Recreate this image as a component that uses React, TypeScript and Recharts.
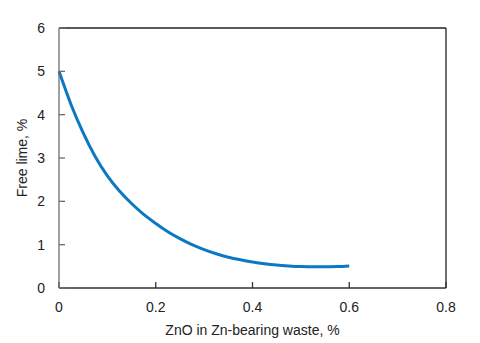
import { LineChart, Line, XAxis, YAxis, ReferenceLine } from "recharts";

// ZnO content in waste (%) and free lime (%)
const zno = [0, 0.025, 0.05, 0.075, 0.1, 0.125, 0.15, 0.175, 0.2, 0.225, 0.25, 0.275, 0.3, 0.325, 0.35, 0.375, 0.4, 0.425, 0.45, 0.475, 0.5, 0.525, 0.55, 0.575, 0.6];
const freeLime = [5.0, 4.23, 3.58, 3.03, 2.59, 2.24, 1.95, 1.7, 1.49, 1.3, 1.14, 1.0, 0.885, 0.79, 0.71, 0.65, 0.6, 0.56, 0.53, 0.51, 0.495, 0.488, 0.488, 0.495, 0.51];

const xTicks = [0, 0.2, 0.4, 0.6, 0.8];
const yTicks = [0, 1, 2, 3, 4, 5, 6];

const data = zno.map((x, i) => ({ x, y: freeLime[i] }));

const FONT = "Liberation Sans, Arial, sans-serif";
const tickStyle = { fontSize: 14, fill: "#222", fontFamily: FONT };

function YTitle() {
  const cy = 158;
  return (
    <text
      x={22}
      y={cy}
      transform={`rotate(-90 22 ${cy})`}
      textAnchor="middle"
      dominantBaseline="central"
      style={tickStyle}
    >
      Free lime, %
    </text>
  );
}

export default function App() {
  return (
    <div style={{ position: "absolute", left: 0, top: 0, background: "#fff" }}>
      <LineChart
        width={480}
        height={343}
        data={data}
        margin={{ top: 28, right: 34, bottom: 0, left: 0 }}
      >
        <XAxis
          dataKey="x"
          type="number"
          domain={[0, 0.8]}
          ticks={xTicks}
          tickFormatter={(v) => String(v)}
          height={55}
          stroke="#333"
          strokeWidth={1.3}
          tickSize={-6}
          tickMargin={20}
          tick={tickStyle}
          label={{
            value: "ZnO in Zn-bearing waste, %",
            position: "insideBottom",
            offset: 8,
            style: tickStyle,
          }}
        />
        <YAxis
          type="number"
          domain={[0, 6]}
          ticks={yTicks}
          width={59}
          stroke="#6e6e6e"
          strokeWidth={1.3}
          tickSize={-6}
          tickMargin={20}
          tick={tickStyle}
          label={<YTitle />}
        />
        <ReferenceLine y={6} stroke="#222" strokeWidth={1.3} />
        <ReferenceLine x={0.8} stroke="#222" strokeWidth={1.3} />
        <Line
          dataKey="y"
          type="monotone"
          stroke="#0a78c2"
          strokeWidth={3}
          dot={false}
          isAnimationActive={false}
        />
      </LineChart>
    </div>
  );
}
